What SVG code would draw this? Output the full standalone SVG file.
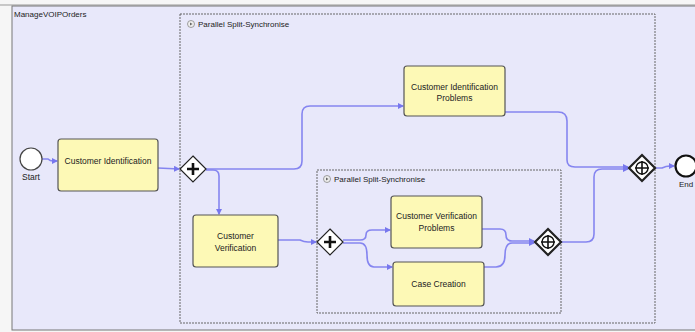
<svg xmlns="http://www.w3.org/2000/svg" width="695" height="332" viewBox="0 0 695 332">
<defs>
<style>
.lbl{font-family:"Liberation Sans",Arial,sans-serif;font-size:8px;fill:#222}
.tl{font-family:"Liberation Sans",Arial,sans-serif;font-size:8.5px;fill:#222;text-anchor:middle}
.task{fill:#fdf9b6;stroke:#555;stroke-width:1.2}
.grp{fill:none;stroke:#666;stroke-width:1;stroke-dasharray:2,1}
.flow{fill:none;stroke:#8585f0;stroke-width:1.6;marker-end:url(#arr)}
.gw{fill:#fff;stroke:#222}
</style>
<marker id="arr" markerWidth="6" markerHeight="6" refX="5" refY="3" orient="auto" markerUnits="userSpaceOnUse">
<path d="M0,0 L6,3 L0,6 z" fill="#7777ee"/>
</marker>
</defs>
<rect x="0" y="0" width="695" height="332" fill="#f6f6f6"/>
<line x1="0" y1="5" x2="695" y2="5" stroke="#999" stroke-width="1"/>
<g id="pool">
<rect x="12" y="6" width="690" height="324" fill="#e8e8fa" stroke="#777" stroke-width="1"/>
<text class="lbl" x="14" y="17">ManageVOIPOrders</text>
</g>
<g id="group-outer">
<rect class="grp" x="180" y="14" width="475" height="309"/>
<circle cx="191" cy="24" r="3.5" fill="#eee" stroke="#888" stroke-width="0.8"/>
<path d="M190,22.5 L192.5,24 L190,25.5z" fill="#666"/>
<text class="lbl" x="198" y="27">Parallel Split-Synchronise</text>
</g>
<g id="group-inner">
<rect class="grp" x="317" y="170" width="244" height="143"/>
<circle cx="327" cy="179" r="3.5" fill="#eee" stroke="#888" stroke-width="0.8"/>
<path d="M326,177.5 L328.5,179 L326,180.5z" fill="#666"/>
<text class="lbl" x="334" y="182">Parallel Split-Synchronise</text>
</g>
<g id="connectors">
<path class="flow" d="M42,159 L48,159 Q50,161 53,161 L57,161"/>
<path class="flow" d="M158,168 L179,169"/>
<path class="flow" d="M206,169 L294,169 Q302,169 302,161 L302,114 Q302,106 310,106 L403,106"/>
<path class="flow" d="M206,170 L213,170 Q219,170 219,176 L219,214"/>
<path class="flow" d="M278,240 L300,240 Q304,242 308,242 L316,242"/>
<path class="flow" d="M343,240 L360,240 Q366,240 366,235 Q366,230 372,230 L390,230"/>
<path class="flow" d="M343,243 L360,243 Q367,243 367,255 Q367,267 374,267 L392,267"/>
<path class="flow" d="M482,229 L500,229 Q506,229 506,235 Q506,241 512,241 L534,241"/>
<path class="flow" d="M484,267 L496,267 Q505,267 505,255 Q505,243 512,243 L534,243"/>
<path class="flow" d="M561,242 L586,242 Q594,242 594,234 L594,177 Q594,169 602,169 L628,169"/>
<path class="flow" d="M505,112 L558,112 Q567,112 567,121 L567,160 Q567,167 575,167 L628,167"/>
<path class="flow" d="M655,168 L662,168 Q666,166 670,166 L674,166"/>
</g>
<g id="start">
<circle cx="31" cy="159" r="11" fill="#fff" stroke="#444" stroke-width="1.2"/>
<text class="tl" x="31" y="180">Start</text>
</g>
<g id="task-customer-identification">
<rect class="task" x="58" y="139" width="100" height="52" rx="3"/>
<text class="tl" x="108" y="164">Customer Identification</text>
</g>
<g id="gateway-split-1">
<path class="gw" stroke-width="1.2" d="M193,156 L206,169 L193,182 L180,169z"/>
<path d="M193,163 L193,175 M187,169 L199,169" stroke="#111" stroke-width="2.6"/>
</g>
<g id="task-cip">
<rect class="task" x="404" y="66" width="101" height="50" rx="3"/>
<text class="tl" x="454.5" y="90">Customer Identification</text>
<text class="tl" x="454.5" y="101">Problems</text>
</g>
<g id="task-customer-verification">
<rect class="task" x="193" y="215" width="85" height="52" rx="3"/>
<text class="tl" x="235.5" y="239">Customer</text>
<text class="tl" x="235.5" y="251">Verification</text>
</g>
<g id="gateway-split-2">
<path class="gw" stroke-width="1.2" d="M330,229 L343,242 L330,255 L317,242z"/>
<path d="M330,236 L330,248 M324,242 L336,242" stroke="#111" stroke-width="2.6"/>
</g>
<g id="task-cvp">
<rect class="task" x="391" y="196" width="91" height="52" rx="3"/>
<text class="tl" x="436.5" y="219">Customer Verification</text>
<text class="tl" x="436.5" y="231">Problems</text>
</g>
<g id="task-case-creation">
<rect class="task" x="393" y="262" width="91" height="44" rx="3"/>
<text class="tl" x="438.5" y="287">Case Creation</text>
</g>
<g id="gateway-join-1">
<path class="gw" stroke-width="2.2" d="M548,229 L561,242 L548,255 L535,242z"/>
<circle cx="548" cy="242" r="6" fill="none" stroke="#111" stroke-width="1.4"/>
<path d="M548,235 L548,249 M541,242 L555,242" stroke="#111" stroke-width="1.6"/>
</g>
<g id="gateway-join-2">
<path class="gw" stroke-width="2.2" d="M642,155 L655,168 L642,181 L629,168z"/>
<circle cx="642" cy="168" r="6" fill="none" stroke="#111" stroke-width="1.4"/>
<path d="M642,161 L642,175 M635,168 L649,168" stroke="#111" stroke-width="1.6"/>
</g>
<g id="end">
<circle cx="686" cy="166" r="10.5" fill="#fff" stroke="#111" stroke-width="2.2"/>
<text class="lbl" x="679" y="187">End</text>
</g>
</svg>
